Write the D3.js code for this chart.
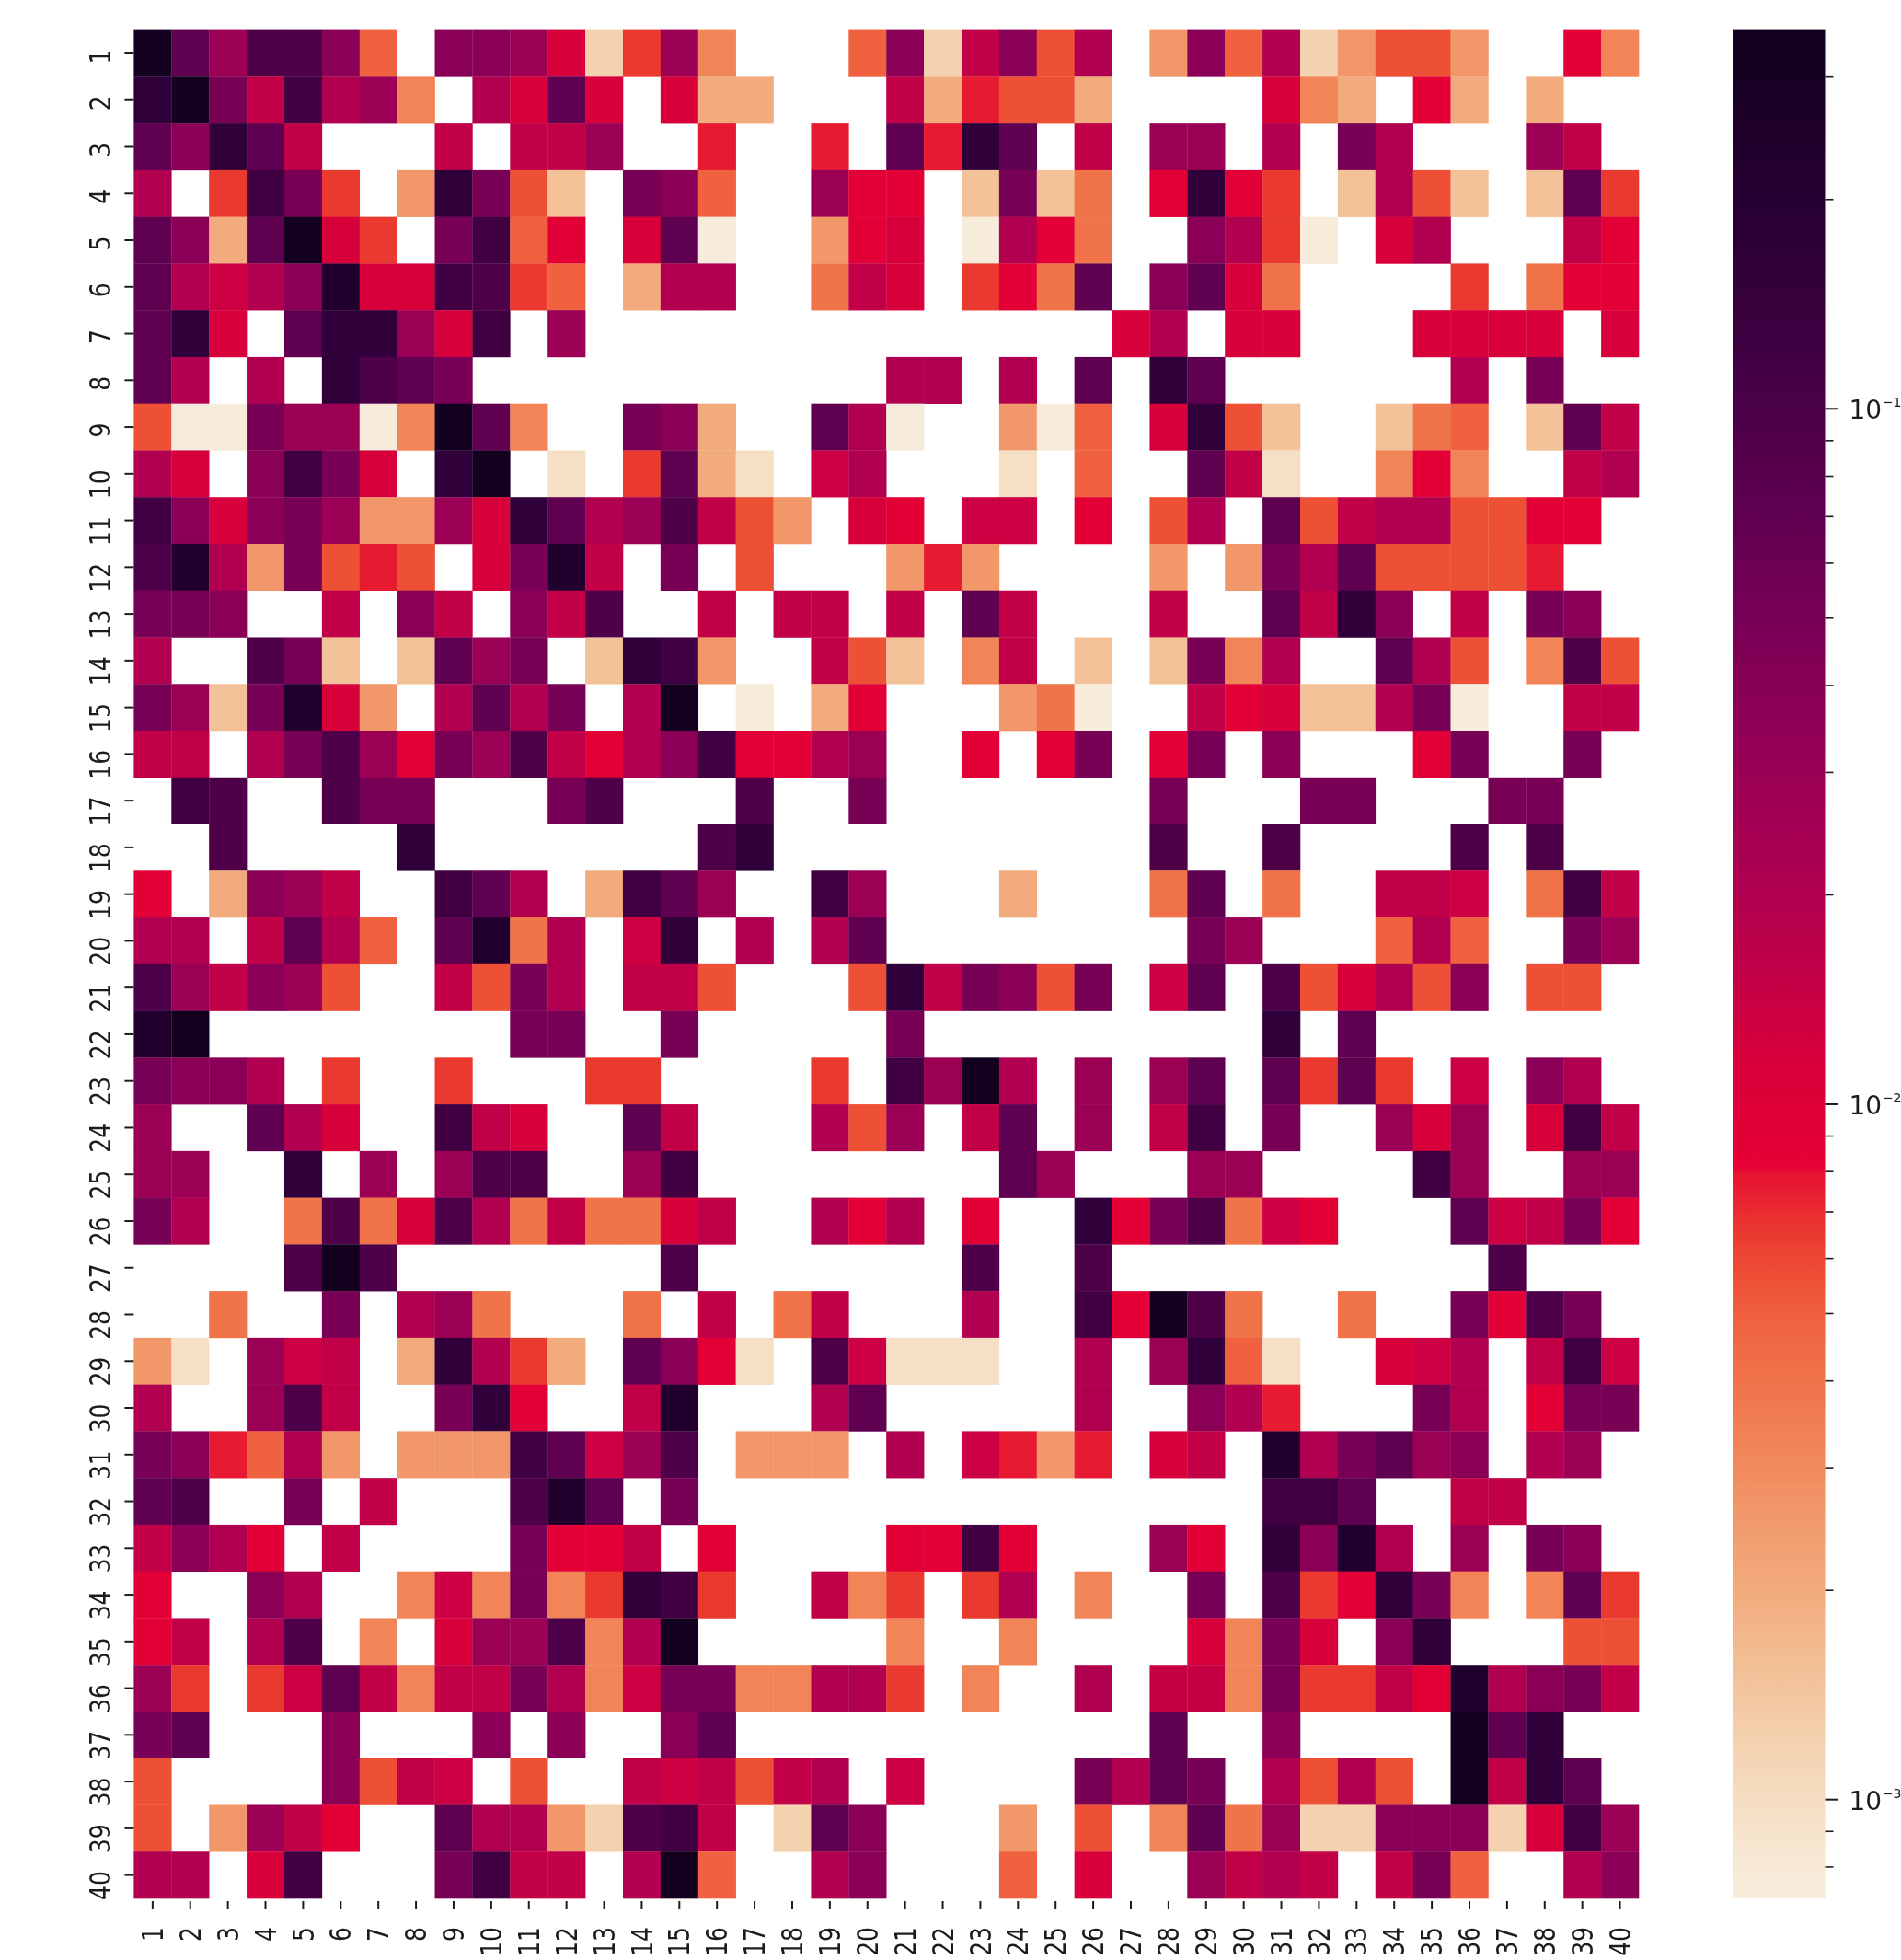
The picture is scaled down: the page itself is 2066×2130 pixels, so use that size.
<!DOCTYPE html>
<html><head><meta charset="utf-8">
<script src="https://cdn.jsdelivr.net/npm/d3@7"></script>
<style>html,body{margin:0;padding:0;background:#fff;overflow:hidden}svg{display:block;font-family:"DejaVu Sans",sans-serif}</style>
</head><body><svg id="c" width="2066" height="2130"></svg>
<script>
const _ = null;
const labels = d3.range(1, 41).map(String);
const row01 = [.32,.07,.029,.095,.095,.038,.0049,_,.038,.038,.029,.0116,.0012,.0065,.029,.0032,_,_,_,.0049,.038,.0012,.0153,.038,.0056,.02,_,.0026,.038,.0049,.02,.0012,.0026,.0056,.0056,.0026,_,_,.0088,.0032];
const row02 = [.16,.32,.05,.0153,.12,.02,.029,.0032,_,.02,.0116,.07,.0116,_,.0116,.002,.002,_,_,_,.0153,.002,.0076,.0056,.0056,.002,_,_,_,_,.0116,.0032,.002,_,.0088,.002,_,.002,_,_];
const row03 = [.07,.038,.16,.07,.0153,_,_,_,.0153,_,.0153,.0153,.029,_,_,.0076,_,_,.0076,_,.07,.0076,.16,.07,_,.0153,_,.029,.029,_,.02,_,.05,.02,_,_,_,.029,.0153,_];
const row04 = [.02,_,.0065,.12,.05,.0065,_,.0026,.16,.05,.0056,.0015,_,.05,.038,.0049,_,_,.029,.0088,.0088,_,.0015,.05,.0015,.004,_,.0088,.16,.0088,.0065,_,.0015,.02,.0056,.0015,_,.0015,.07,.0065];
const row05 = [.07,.038,.002,.07,.32,.0116,.0065,_,.05,.12,.0049,.0088,_,.0116,.07,.00075,_,_,.0026,.0088,.0116,_,.00075,.02,.0088,.004,_,_,.038,.02,.0065,.00075,_,.0116,.02,_,_,_,.0153,.0088];
const row06 = [.07,.02,.0135,.02,.038,.23,.0116,.0116,.12,.095,.0065,.0049,_,.002,.02,.02,_,_,.004,.0153,.0116,_,.0065,.0088,.004,.07,_,.038,.07,.0116,.004,_,_,_,_,.0065,_,.004,.0088,.0088];
const row07 = [.07,.16,.0116,_,.07,.16,.16,.029,.0116,.12,_,.029,_,_,_,_,_,_,_,_,_,_,_,_,_,_,.0116,.02,_,.0116,.0116,_,_,_,.0116,.0116,.0116,.0116,_,.0116];
const row08 = [.07,.02,_,.02,_,.16,.095,.07,.05,_,_,_,_,_,_,_,_,_,_,_,.02,.02,_,.02,_,.07,_,.16,.07,_,_,_,_,_,_,.02,_,.05,_,_];
const row09 = [.0056,.00075,.00075,.05,.029,.029,.00075,.0032,.32,.07,.0032,_,_,.05,.038,.002,_,_,.07,.02,.00075,_,_,.0026,.00075,.0049,_,.0116,.16,.0056,.0015,_,_,.0015,.004,.0049,_,.0015,.07,.0153];
const row10 = [.02,.0116,_,.038,.12,.05,.0116,_,.16,.32,_,.00095,_,.0065,.07,.002,.00095,_,.0135,.02,_,_,_,.00095,_,.0049,_,_,.07,.0153,.00095,_,_,.0032,.0088,.0032,_,_,.0153,.02];
const row11 = [.12,.038,.0116,.038,.05,.029,.0026,.0026,.029,.0116,.16,.07,.02,.029,.095,.0153,.0056,.0026,_,.0116,.0088,_,.0135,.0135,_,.0088,_,.0056,.02,_,.07,.0056,.0153,.02,.02,.0056,.0056,.0088,.0088,_];
const row12 = [.095,.23,.02,.0026,.05,.0056,.0076,.0056,_,.0116,.05,.23,.0153,_,.05,_,.0056,_,_,_,.0026,.0076,.0026,_,_,_,_,.0026,_,.0026,.05,.02,.07,.0056,.0056,.0056,.0056,.0076,_,_];
const row13 = [.05,.05,.038,_,_,.0153,_,.038,.0153,_,.038,.0153,.095,_,_,.0153,_,.0153,.0153,_,.0153,_,.07,.0153,_,_,_,.0153,_,_,.07,.0153,.16,.038,_,.0153,_,.05,.038,_];
const row14 = [.02,_,_,.095,.05,.0015,_,.0015,.07,.029,.05,_,.0015,.16,.12,.0026,_,_,.0153,.0056,.0015,_,.0032,.0153,_,.0015,_,.0015,.05,.0032,.02,_,_,.07,.02,.0056,_,.0032,.095,.0056];
const row15 = [.05,.029,.0015,.05,.23,.0116,.0026,_,.02,.07,.02,.05,_,.02,.32,_,.00075,_,.002,.0088,_,_,_,.0026,.004,.00075,_,_,.0153,.0088,.0116,.0015,.0015,.02,.05,.00075,_,_,.0153,.0153];
const row16 = [.0153,.0153,_,.02,.05,.095,.029,.0088,.05,.029,.095,.0153,.0088,.02,.038,.12,.0088,.0088,.02,.029,_,_,.0088,_,.0088,.05,_,.0088,.05,_,.038,_,_,_,.0088,.05,_,_,.05,_];
const row17 = [_,.12,.095,_,_,.095,.05,.05,_,_,_,.05,.095,_,_,_,.095,_,_,.05,_,_,_,_,_,_,_,.05,_,_,_,.05,.05,_,_,_,.05,.05,_,_];
const row18 = [_,_,.095,_,_,_,_,.16,_,_,_,_,_,_,_,.095,.16,_,_,_,_,_,_,_,_,_,_,.095,_,_,.095,_,_,_,_,.095,_,.095,_,_];
const row19 = [.0088,_,.002,.038,.029,.0153,_,_,.12,.07,.02,_,.002,.12,.07,.029,_,_,.12,.029,_,_,_,.002,_,_,_,.004,.07,_,.004,_,_,.0153,.0153,.0135,_,.004,.12,.0153];
const row20 = [.02,.02,_,.0153,.07,.02,.0049,_,.07,.23,.004,.02,_,.0135,.16,_,.02,_,.02,.07,_,_,_,_,_,_,_,_,.05,.029,_,_,_,.0049,.02,.0049,_,_,.05,.029];
const row21 = [.095,.029,.0153,.038,.029,.0056,_,_,.0153,.0056,.05,.02,_,.0153,.0153,.0056,_,_,_,.0056,.16,.0153,.05,.038,.0056,.05,_,.0135,.07,_,.095,.0056,.0116,.02,.0056,.038,_,.0056,.0056,_];
const row22 = [.23,.32,_,_,_,_,_,_,_,_,.05,.05,_,_,.05,_,_,_,_,_,.05,_,_,_,_,_,_,_,_,_,.16,_,.07,_,_,_,_,_,_,_];
const row23 = [.05,.038,.038,.02,_,.0065,_,_,.0065,_,_,_,.0065,.0065,_,_,_,_,.0065,_,.12,.029,.32,.02,_,.029,_,.029,.07,_,.07,.0065,.07,.0065,_,.0135,_,.038,.02,_];
const row24 = [.029,_,_,.07,.02,.0116,_,_,.12,.0153,.0116,_,_,.07,.0153,_,_,_,.02,.0056,.029,_,.0153,.07,_,.029,_,.0153,.12,_,.05,_,_,.029,.0116,.029,_,.0116,.12,.0153];
const row25 = [.029,.029,_,_,.16,_,.029,_,.029,.095,.095,_,_,.029,.12,_,_,_,_,_,_,_,_,.07,.029,_,_,_,.029,.029,_,_,_,_,.12,.029,_,_,.029,.029];
const row26 = [.05,.02,_,_,.004,.095,.004,.0116,.095,.02,.004,.0153,.004,.004,.0116,.0153,_,_,.02,.0088,.02,_,.0088,_,_,.16,.0088,.05,.095,.004,.0135,.0088,_,_,_,.07,.0135,.0153,.05,.0088];
const row27 = [_,_,_,_,.095,.32,.095,_,_,_,_,_,_,_,.095,_,_,_,_,_,_,_,.095,_,_,.095,_,_,_,_,_,_,_,_,_,_,.095,_,_,_];
const row28 = [_,_,.004,_,_,.05,_,.02,.029,.004,_,_,_,.004,_,.0153,_,.004,.0153,_,_,_,.02,_,_,.12,.0088,.32,.095,.004,_,_,.004,_,_,.05,.0088,.095,.05,_];
const row29 = [.0026,.00095,_,.029,.0135,.0153,_,.002,.16,.02,.0065,.002,_,.07,.038,.0088,.00095,_,.095,.0135,.00095,.00095,.00095,_,_,.02,_,.029,.16,.0049,.00095,_,_,.0116,.0135,.02,_,.0153,.12,.0135];
const row30 = [.02,_,_,.029,.095,.0153,_,_,.05,.16,.0088,_,_,.0153,.23,_,_,_,.02,.07,_,_,_,_,_,.02,_,_,.038,.02,.0076,_,_,_,.05,.02,_,.0088,.05,.05];
const row31 = [.05,.038,.0076,.0049,.02,.0026,_,.0026,.0026,.0026,.12,.07,.0135,.029,.095,_,.0026,.0026,.0026,_,.02,_,.0135,.0076,.0026,.0076,_,.0116,.0153,_,.23,.02,.05,.07,.029,.038,_,.02,.029,_];
const row32 = [.07,.095,_,_,.05,_,.0153,_,_,_,.095,.23,.07,_,.05,_,_,_,_,_,_,_,_,_,_,_,_,_,_,_,.12,.12,.07,_,_,.0153,.0153,_,_,_];
const row33 = [.0153,.038,.02,.0088,_,.0153,_,_,_,_,.05,.0088,.0088,.0153,_,.0088,_,_,_,_,.0088,.0088,.12,.0088,_,_,_,.029,.0088,_,.16,.038,.23,.02,_,.029,_,.05,.038,_];
const row34 = [.0088,_,_,.038,.02,_,_,.0032,.0135,.0032,.05,.0032,.0065,.16,.12,.0065,_,_,.0153,.0032,.0065,_,.0065,.02,_,.0032,_,_,.05,_,.095,.0065,.0088,.16,.05,.0032,_,.0032,.07,.0065];
const row35 = [.0088,.0153,_,.02,.095,_,.0032,_,.0116,.029,.029,.095,.0032,.02,.32,_,_,_,_,_,.0032,_,_,.0032,_,_,_,_,.0116,.0032,.05,.0116,_,.038,.16,_,_,_,.0056,.0056];
const row36 = [.029,.0065,_,.0065,.0135,.07,.0153,.0032,.0153,.0153,.05,.02,.0032,.0135,.05,.05,.0032,.0032,.02,.02,.0065,_,.0032,_,_,.02,_,.0145,.0145,.0032,.05,.0065,.0065,.0153,.0088,.23,.02,.038,.05,.0153];
const row37 = [.05,.07,_,_,_,.038,_,_,_,.038,_,.038,_,_,.038,.07,_,_,_,_,_,_,_,_,_,_,_,.07,_,_,.038,_,_,_,_,.32,.07,.16,_,_];
const row38 = [.0056,_,_,_,_,.038,.0056,.0153,.0135,_,.0056,_,_,.0153,.0135,.0153,.0056,.0153,.02,_,.0135,_,_,_,_,.05,.02,.07,.05,_,.02,.0056,.02,.0056,_,.32,.0153,.16,.07,_];
const row39 = [.0056,_,.0026,.029,.0153,.0088,_,_,.07,.02,.02,.0026,.0012,.095,.12,.0153,_,.0012,.07,.038,_,_,_,.0026,_,.0056,_,.0032,.07,.004,.029,.0012,.0012,.038,.038,.038,.0012,.0116,.12,.029];
const row40 = [.02,.02,_,.0116,.12,_,_,_,.05,.12,.0153,.0153,_,.02,.32,.0049,_,_,.02,.038,_,_,_,.0049,_,.0116,_,_,.029,.0153,.02,.0153,_,.0153,.05,.0049,_,_,.02,.038];
const matrix = [row01,row02,row03,row04,row05,row06,row07,row08,row09,row10,row11,row12,row13,row14,row15,row16,row17,row18,row19,row20,row21,row22,row23,row24,row25,row26,row27,row28,row29,row30,row31,row32,row33,row34,row35,row36,row37,row38,row39,row40];

const colorStops = [.00072,.00075,.00095,.0012,.0015,.002,.0026,.0032,.004,.0049,.0056,.0065,.0076,.0079,.0081,.0116,.0153,.02,.029,.038,.05,.07,.095,.12,.16,.23,.32,.35];
const colorRamp = ["#f7eddc","#f7ecdb","#f5e0c6","#f4d2b0","#f3c299","#f2ab7c","#f1976a","#f18558","#f0734a","#ef613f","#ee5036","#ea3a30","#e81a32","#e71530","#e60035","#d8003b","#c20047","#b0004f","#9c0055","#8a0057","#780055","#600050","#4e0049","#400041","#30003a","#22002e","#14001f","#12001d"];
const barMinor = [.0008,.0009,.002,.003,.004,.005,.006,.007,.008,.009,.02,.03,.04,.05,.06,.07,.08,.09,.2,.3];
const barMajor = [.001,.01,.1];

const X0=145.4, X1=1781, Y0=32.6, Y1=2063, BX0=1883, BX1=1983.5;
const svg = d3.select("#c");
const root = svg.append("g").style("filter","blur(0.6px)");
const x = d3.scaleBand().domain(labels).range([X0,X1]);
const y = d3.scaleBand().domain(labels).range([Y0,Y1]);
const color = d3.scaleLog().domain(colorStops).range(colorRamp).interpolate(d3.interpolateRgb);
const cells = matrix.flatMap((r,i)=>r.map((v,j)=>({v,row:labels[i],col:labels[j]}))).filter(d=>d.v!==null);
root.append("g").selectAll("rect").data(cells).join("rect")
  .attr("x",d=>x(d.col)).attr("y",d=>y(d.row))
  .attr("width",x.bandwidth()+.3).attr("height",y.bandwidth()+.3)
  .attr("fill",d=>color(d.v));

const TXT="#1c1c1c";
const xAxis = d3.axisBottom(x).tickSize(9).tickSizeOuter(0);
const gx = root.append("g").attr("transform",`translate(0,${Y1+3})`).call(xAxis);
gx.select(".domain").remove();
gx.selectAll(".tick line").attr("stroke",TXT).attr("stroke-width",2);
gx.selectAll(".tick text").attr("fill",TXT).attr("font-size",25).attr("font-family","DejaVu Sans")
  .attr("text-anchor","end").attr("y",null).attr("dy",null).attr("dominant-baseline","central")
  .attr("transform","translate(0,28) rotate(-90) scale(1,1.28)");
const yAxis = d3.axisLeft(y).tickSize(10).tickSizeOuter(0);
const gy = root.append("g").attr("transform",`translate(${X0},0)`).call(yAxis);
gy.select(".domain").remove();
gy.selectAll(".tick line").attr("stroke",TXT).attr("stroke-width",2);
gy.selectAll(".tick text").attr("fill",TXT).attr("font-size",25).attr("font-family","DejaVu Sans")
  .attr("text-anchor","end").attr("x",null).attr("dy",null)
  .attr("transform","translate(-25,-4.5) rotate(-90) scale(1,1.28)");

const barY = d3.scaleLog().domain([.00072,.35]).range([Y1,Y0]);
const barVals = d3.range(0,256).map(i=>.00072*Math.pow(.35/.00072,i/255)).concat(colorStops).filter(v=>v<=.35).sort(d3.ascending);
const grad = svg.append("defs").append("linearGradient").attr("id","barGrad")
  .attr("x1",0).attr("x2",0).attr("y1",1).attr("y2",0);
grad.selectAll("stop").data(barVals).join("stop")
  .attr("offset",d=>(Y1-barY(d))/(Y1-Y0)).attr("stop-color",d=>color(d));
root.append("rect").attr("x",BX0).attr("y",Y0).attr("width",BX1-BX0).attr("height",Y1-Y0).attr("fill","url(#barGrad)");
const minorAxis = d3.axisRight(barY).tickValues(barMinor).tickSize(9).tickSizeOuter(0).tickFormat("");
const gm = root.append("g").attr("transform",`translate(${BX1},0)`).call(minorAxis);
gm.select(".domain").remove();
gm.selectAll(".tick line").attr("stroke",TXT).attr("stroke-width",1.6);
const majorAxis = d3.axisRight(barY).tickValues(barMajor).tickSize(14).tickSizeOuter(0).tickFormat("");
const gM = root.append("g").attr("transform",`translate(${BX1},0)`).call(majorAxis);
gM.select(".domain").remove();
gM.selectAll(".tick line").attr("stroke",TXT).attr("stroke-width",2);
const lab = gM.selectAll(".tick").append("text").attr("x",26).attr("y",11).attr("text-anchor","start")
  .attr("fill",TXT).attr("font-size",28).attr("font-family","DejaVu Sans");
lab.append("tspan").text("10");
lab.append("tspan").attr("font-size",14.5).attr("dy",-13).text(d=>"\u2212"+Math.round(-Math.log10(d)));
</script></body></html>
